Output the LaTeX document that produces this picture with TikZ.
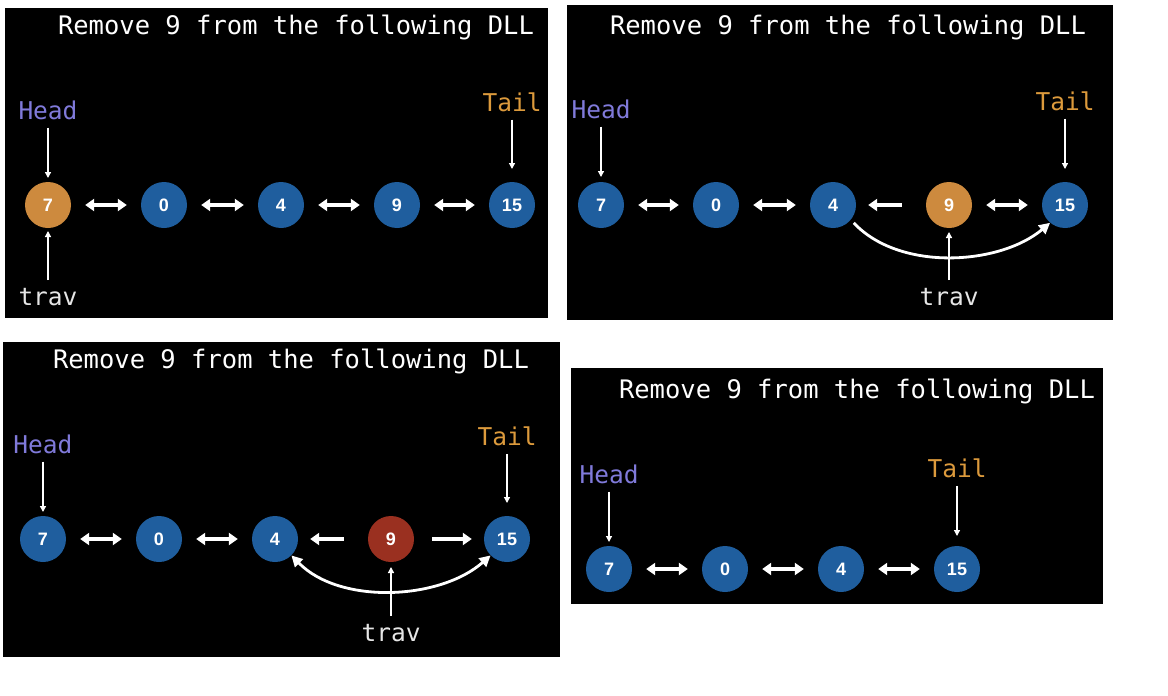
\documentclass[tikz,border=0pt]{standalone}
\usepackage{fontspec}
\setmonofont{DejaVu Sans Mono}
\newfontfamily\numfont{Liberation Sans}
\usetikzlibrary{arrows.meta}
\definecolor{nblue}{HTML}{1F5E9E}
\definecolor{norange}{HTML}{CD8A3E}
\definecolor{nred}{HTML}{9A3020}
\definecolor{headc}{HTML}{807ADA}
\definecolor{tailc}{HTML}{DC9A3C}
\definecolor{travc}{HTML}{E6E6E6}
\tikzset{
  panel/.style={fill=black, draw=none},
  title/.style={text=white, font=\ttfamily\fontsize{25.5}{27}\selectfont, inner sep=0pt},
  lbl/.style={font=\ttfamily\fontsize{24.5}{26}\selectfont, inner sep=0pt},
  nd/.style={circle, minimum size=46pt, inner sep=0pt, text=white, font=\numfont\bfseries\fontsize{18}{19}\selectfont},
  bn/.style={nd, fill=nblue},
  on/.style={nd, fill=norange},
  rn/.style={nd, fill=nred},
  dbl/.style={white, line width=3.5pt, {Triangle[width=12pt,length=9pt]}-{Triangle[width=12pt,length=9pt]}},
  sgl/.style={white, line width=3.5pt, -{Triangle[width=12pt,length=9pt]}},
  ptr/.style={white, line width=1.3pt, -{Triangle[width=6pt,length=6pt]}},
  crv/.style={white, line width=2.8pt, -{Triangle[width=11pt,length=11pt]}},
  crv2/.style={white, line width=2.8pt, {Triangle[width=11pt,length=11pt]}-{Triangle[width=11pt,length=11pt]}}
}
\begin{document}
\begin{tikzpicture}[x=1pt,y=-1pt]
\useasboundingbox[fill=white] (0,0) rectangle (1168,696);
% panels
\fill[panel] (5,8) rectangle (548,318);
\fill[panel] (567,5) rectangle (1113,320);
\fill[panel] (3,342) rectangle (560,657);
\fill[panel] (571,368) rectangle (1103,604);
% ---------- Panel 1 ----------
\node[title] (t1) at (296,27) {Remove 9 from the following DLL};
\node[on] (a1) at (48,205) {7};
\node[bn] (a2) at (164,205) {0};
\node[bn] (a3) at (281,205) {4};
\node[bn] (a4) at (397,205) {9};
\node[bn] (a5) at (512,205) {15};
\foreach \i/\j in {a1/a2,a2/a3,a3/a4,a4/a5}
  \draw[dbl] ([xshift=14pt]\i.east) -- ([xshift=-14pt]\j.west);
\node[lbl, text=headc] (h1) at (48,110) {Head};
\node[lbl, text=tailc] (l1) at (512,102) {Tail};
\node[lbl, text=travc] (v1) at (48,297) {trav};
\coordinate (h1e) at (48,178);
\coordinate (l1e) at (512,169);
\coordinate (v1e) at (48,231);
\draw[ptr] ([yshift=-8pt]h1.south) -- (h1e);
\draw[ptr] ([yshift=-8pt]l1.south) -- (l1e);
\draw[ptr] ([yshift=8pt]v1.north) -- (v1e);
% ---------- Panel 2 ----------
\node[title] (t2) at (848,27) {Remove 9 from the following DLL};
\node[bn] (b1) at (601,205) {7};
\node[bn] (b2) at (716,205) {0};
\node[bn] (b3) at (833,205) {4};
\node[on] (b4) at (949,205) {9};
\node[bn] (b5) at (1065,205) {15};
\foreach \i/\j in {b1/b2,b2/b3,b4/b5}
  \draw[dbl] ([xshift=14pt]\i.east) -- ([xshift=-14pt]\j.west);
\draw[sgl] ([xshift=-24pt]b4.west) -- ([xshift=12pt]b3.east);
\node[lbl, text=headc] (h2) at (601,109) {Head};
\node[lbl, text=tailc] (l2) at (1065,101) {Tail};
\node[lbl, text=travc] (v2) at (949,297) {trav};
\coordinate (h2e) at (601,177);
\coordinate (l2e) at (1065,169);
\coordinate (v2e) at (949,232);
\draw[crv] ([shift={(3pt,-3pt)}]b3.-40) .. controls (900,272) and (1000,265) .. (b5.-130);
\draw[ptr] ([yshift=-8pt]h2.south) -- (h2e);
\draw[ptr] ([yshift=-8pt]l2.south) -- (l2e);
\draw[ptr] ([yshift=8pt]v2.north) -- (v2e);
% ---------- Panel 3 ----------
\node[title] (t3) at (291,361) {Remove 9 from the following DLL};
\node[bn] (c1) at (43,539) {7};
\node[bn] (c2) at (159,539) {0};
\node[bn] (c3) at (275,539) {4};
\node[rn] (c4) at (391,539) {9};
\node[bn] (c5) at (507,539) {15};
\foreach \i/\j in {c1/c2,c2/c3}
  \draw[dbl] ([xshift=14pt]\i.east) -- ([xshift=-14pt]\j.west);
\draw[sgl] ([xshift=-24pt]c4.west) -- ([xshift=12pt]c3.east);
\draw[sgl] ([xshift=18pt]c4.east) -- ([xshift=-12pt]c5.west);
\node[lbl, text=headc] (h3) at (43,444) {Head};
\node[lbl, text=tailc] (l3) at (507,436) {Tail};
\node[lbl, text=travc] (v3) at (391,633) {trav};
\coordinate (h3e) at (43,512);
\coordinate (l3e) at (507,503);
\coordinate (v3e) at (391,567);
\draw[crv2] (c3.-45) .. controls (340,605) and (440,600) .. (c5.-135);
\draw[ptr] ([yshift=-8pt]h3.south) -- (h3e);
\draw[ptr] ([yshift=-8pt]l3.south) -- (l3e);
\draw[ptr] ([yshift=8pt]v3.north) -- (v3e);
% ---------- Panel 4 ----------
\node[title] (t4) at (857,391) {Remove 9 from the following DLL};
\node[bn] (d1) at (609,569) {7};
\node[bn] (d2) at (725,569) {0};
\node[bn] (d3) at (841,569) {4};
\node[bn] (d4) at (957,569) {15};
\foreach \i/\j in {d1/d2,d2/d3,d3/d4}
  \draw[dbl] ([xshift=14pt]\i.east) -- ([xshift=-14pt]\j.west);
\node[lbl, text=headc] (h4) at (609,474) {Head};
\node[lbl, text=tailc] (l4) at (957,468) {Tail};
\coordinate (h4e) at (609,542);
\coordinate (l4e) at (957,536);
\draw[ptr] ([yshift=-8pt]h4.south) -- (h4e);
\draw[ptr] ([yshift=-8pt]l4.south) -- (l4e);
\end{tikzpicture}
\end{document}
